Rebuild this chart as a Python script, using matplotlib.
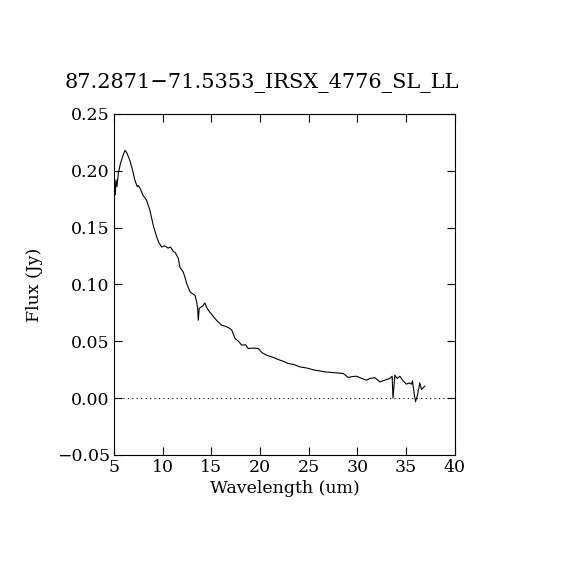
import matplotlib
matplotlib.use("Agg")
import matplotlib.pyplot as plt

wavelength = [5.05, 5.12, 5.2, 5.3, 5.45, 5.65, 5.9, 6.13, 6.3, 6.5, 6.64, 6.8, 6.98, 7.1, 7.26, 7.4,
              7.5, 7.67, 7.85, 8.0, 8.2, 8.35, 8.5, 8.7, 8.85, 9.03, 9.2, 9.38, 9.6, 9.89, 10.2,
              10.57, 10.8, 11.09, 11.3, 11.6, 11.77, 11.95, 12.11, 12.3, 12.46, 12.8, 13.05, 13.31,
              13.49, 13.6, 13.65, 13.75, 13.9, 14.1, 14.34, 14.5, 14.68, 15.0, 15.37, 15.7, 16.05,
              16.5, 16.9, 17.1, 17.42, 17.8, 18.1, 18.5, 18.79, 19.3, 19.81, 20.2, 20.67, 21.3,
              22.04, 22.5, 22.9, 23.5, 24.09, 24.8, 25.63, 26.1, 26.66, 27.5, 28.54, 29.05, 29.5,
              29.9, 30.4, 30.93, 31.28, 31.79, 32.3, 32.8, 33.3, 33.56, 33.65, 33.84, 34.08, 34.35,
              34.69, 35.03, 35.3, 35.55, 35.65, 35.82, 35.96, 36.16, 36.4, 36.57, 36.91]
flux = [0.185, 0.179, 0.192, 0.186, 0.198, 0.206, 0.213, 0.218, 0.216, 0.212, 0.209, 0.204, 0.198,
        0.193, 0.189, 0.186, 0.187, 0.185, 0.181, 0.178, 0.176, 0.174, 0.170, 0.165, 0.159, 0.152,
        0.147, 0.142, 0.137, 0.133, 0.134, 0.132, 0.133, 0.129, 0.128, 0.123, 0.115, 0.113, 0.111,
        0.106, 0.101, 0.0935, 0.092, 0.0906, 0.0847, 0.078, 0.0686, 0.079, 0.080, 0.081, 0.0838,
        0.080, 0.0774, 0.0740, 0.0700, 0.0670, 0.0642, 0.0630, 0.0613, 0.0598, 0.0525, 0.0500,
        0.0466, 0.0470, 0.0437, 0.0440, 0.0437, 0.0400, 0.0378, 0.0360, 0.0334, 0.0320, 0.0305,
        0.0295, 0.0275, 0.0265, 0.0246, 0.0240, 0.0231, 0.0225, 0.0217, 0.0182, 0.0190, 0.0193,
        0.0175, 0.0158, 0.0173, 0.0180, 0.0143, 0.0158, 0.0173, 0.0193, 0.0000, 0.0202, 0.0173,
        0.0193, 0.0152, 0.0123, 0.0134, 0.0123, 0.0152, 0.0041, -0.0032, 0.0026, 0.0134, 0.0076,
        0.0106]

x_ticks = [5, 10, 15, 20, 25, 30, 35, 40]
y_ticks = [-0.05, 0.00, 0.05, 0.10, 0.15, 0.20, 0.25]
title = "87.2871\u221271.5353_IRSX_4776_SL_LL"

plt.rcParams['font.family'] = ['DejaVu Serif']
plt.rcParams['axes.unicode_minus'] = True

fig = plt.figure(figsize=(5.7, 5.7), dpi=100)
ax = fig.add_axes([0.2, 0.2018, 0.598, 0.5982])
ax.plot(wavelength, flux, color='black', linewidth=0.8)
ax.axhline(0.0, color='black', linestyle=(0, (1, 3)), linewidth=0.8)
ax.set_xlim(5, 40)
ax.set_ylim(-0.05, 0.25)
ax.set_xticks(x_ticks)
ax.set_xticklabels([str(t) for t in x_ticks])
ax.set_yticks(y_ticks)
ax.set_yticklabels([f"{t:.2f}".replace('-', '\u2212') for t in y_ticks])
ax.tick_params(direction='in', length=6, width=0.8, top=True, right=True, labelsize=12.5, pad=3)
for s in ax.spines.values():
    s.set_linewidth(0.8)
ax.set_xlabel("Wavelength (um)", fontsize=12.5, labelpad=3)
ax.set_ylabel("Flux (Jy)", fontsize=12.5, labelpad=10)
fig.text(262/570, 1 - 83/570, title, ha='center', va='center', fontsize=15)
fig.savefig("out.png", dpi=100)
